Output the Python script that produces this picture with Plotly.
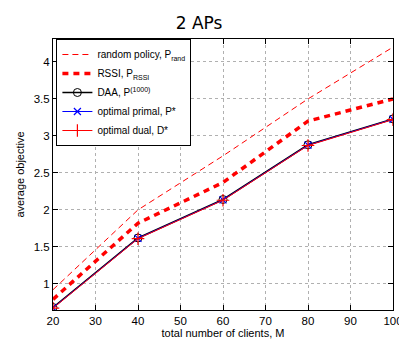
import plotly.graph_objects as go

clients = [20, 40, 60, 80, 100]
random_policy = [0.92, 2.0, 2.73, 3.5, 4.2]
rssi = [0.79, 1.82, 2.37, 3.2, 3.5]
daa = [0.68, 1.62, 2.14, 2.88, 3.23]
primal = [0.675, 1.615, 2.135, 2.875, 3.225]
dual = [0.67, 1.61, 2.13, 2.87, 3.22]

x_ticks = [20, 30, 40, 50, 60, 70, 80, 90, 100]
y_ticks = [1, 1.5, 2, 2.5, 3, 3.5, 4]

FONT = "Liberation Sans, Arial, sans-serif"

fig = go.Figure()
fig.add_trace(go.Scatter(x=clients, y=random_policy, mode="lines",
                         line=dict(color="red", width=1, dash="6px,4px"),
                         name="random policy, P<sub>rand</sub>"))
fig.add_trace(go.Scatter(x=clients, y=rssi, mode="lines",
                         line=dict(color="red", width=3.5, dash="6px,5px"),
                         name="RSSI, P<sub>RSSI</sub>"))
fig.add_trace(go.Scatter(x=clients, y=daa, mode="lines+markers",
                         line=dict(color="black", width=1.5),
                         marker=dict(symbol="circle-open", size=8, color="black", line=dict(width=1)),
                         name="DAA, P<sup>(1000)</sup>"))
fig.add_trace(go.Scatter(x=clients, y=primal, mode="lines+markers",
                         line=dict(color="blue", width=1),
                         marker=dict(symbol="x-thin-open", size=7, color="blue", line=dict(width=1.2, color="blue")),
                         name="optimal primal, P*"))
fig.add_trace(go.Scatter(x=clients, y=dual, mode="lines+markers",
                         line=dict(color="red", width=1),
                         marker=dict(symbol="cross-thin-open", size=9, color="red", line=dict(width=1.2, color="red")),
                         name="optimal dual, D*"))

axis_common = dict(showline=True, linecolor="black", linewidth=1, mirror="ticks",
                   ticks="inside", ticklen=5, tickcolor="black",
                   showgrid=True, gridcolor="#b0b0b0", griddash="dot", gridwidth=1,
                   zeroline=False, ticklabeloverflow="allow",
                   tickfont=dict(family=FONT, size=11.5, color="black"))

fig.update_xaxes(range=[20, 100], tickvals=x_ticks,
                 title=dict(text="total number of clients, M", font=dict(family=FONT, size=11, color="black"), standoff=2),
                 **axis_common)
fig.update_yaxes(range=[0.646, 4.31], tickvals=y_ticks,
                 title=dict(text="average objective", font=dict(family=FONT, size=11, color="black"), standoff=6),
                 **axis_common)

fig.update_layout(
    width=407, height=340,
    margin=dict(l=40, r=12, t=31, b=29),
    paper_bgcolor="white", plot_bgcolor="white",
    title=dict(text="2 APs", x=191/407, xanchor="center", y=0.955, yanchor="middle",
               font=dict(family="DejaVu Sans, sans-serif", size=17, color="black")),
    legend=dict(x=0.01, y=1.0, xanchor="left", yanchor="top",
                bgcolor="white", bordercolor="black", borderwidth=1,
                font=dict(family=FONT, size=10, color="black"),
                tracegroupgap=0, itemwidth=30),
    showlegend=True,
)

fig.write_html("out.html")
